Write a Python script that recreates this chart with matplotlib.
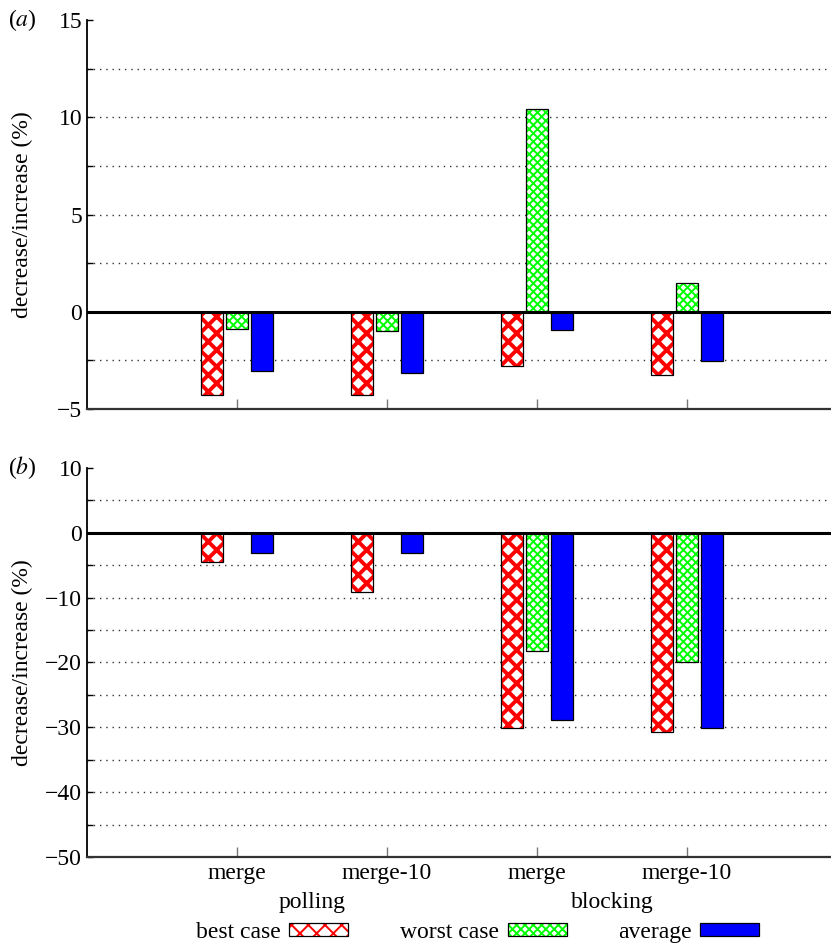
import numpy as np
import matplotlib
matplotlib.use('Agg')
import matplotlib.pyplot as plt
from matplotlib.patches import Patch
from matplotlib.ticker import MultipleLocator

plt.rcParams['font.family'] = ['Liberation Serif', 'DejaVu Serif']
plt.rcParams['mathtext.fontset'] = 'stix'
plt.rcParams['font.size'] = 17

# data
cats = ['merge', 'merge-10', 'merge', 'merge-10']
modes = ['polling', 'blocking']
best_a = [-4.3, -4.3, -2.78, -3.23]
worst_a = [-0.9, -1.0, 10.42, 1.49]
avg_a = [-3.05, -3.15, -0.95, -2.55]
best_b = [-4.57, -9.1, -30.15, -30.7]
worst_b = [0.0, 0.0, -18.2, -20.0]
avg_b = [-3.08, -3.1, -28.8, -30.15]

x = np.arange(1, len(cats) + 1)
w = 0.153
off = 1 / 6.
RED_HATCH, GREEN_HATCH = 'xx', 'xxxx'

def hatched(ax, xs, vals, color, hatch, hlw):
    plt.rcParams['hatch.linewidth'] = hlw
    bars = ax.bar(xs, vals, w, facecolor='white', edgecolor=color, hatch=hatch,
                  linewidth=0, zorder=2)
    for b in bars:
        if hasattr(b, 'set_hatch_linewidth'):
            b.set_hatch_linewidth(hlw)
    ax.bar(xs, vals, w, fill=False, edgecolor='black', linewidth=0.9, zorder=3)

def panel(ax, best, worst, avg, ylo, yhi, step, letter):
    hatched(ax, x - off, best, '#ff0000', RED_HATCH, 2.8)
    hatched(ax, x, worst, '#00ff00', GREEN_HATCH, 1.4)
    ax.bar(x + off, avg, w, facecolor='#0000ff', edgecolor='black', linewidth=0.9, zorder=3)
    ax.axhline(0, color='black', linewidth=2.2, zorder=4)
    ax.set_xlim(0, 4.96)
    ax.set_ylim(ylo, yhi)
    ax.yaxis.set_major_locator(MultipleLocator(step))
    ax.yaxis.set_minor_locator(MultipleLocator(step / 2))
    ax.set_xticks(x)
    # dotted grid every half step, none on the top limit
    for g in np.arange(ylo + step / 2, yhi, step / 2):
        ax.axhline(g, color='#333333', linewidth=1.0, linestyle=(0, (1, 3.5)), zorder=1)
    for s in ['top', 'right']:
        ax.spines[s].set_visible(False)
    ax.spines['left'].set_linewidth(1.3)
    ax.spines['bottom'].set_linewidth(1.6)
    ax.spines['bottom'].set_color('#333333')
    ax.tick_params(axis='y', which='both', direction='in', length=4, width=1)
    ax.tick_params(axis='x', direction='in', length=7, width=1, color='#777777')
    ax.set_ylabel('decrease/increase (%)', fontsize=17)
    ax.yaxis.set_label_coords(-0.073, 0.5)
    ax.text(-0.106, 1.0, '($' + letter + '$)', transform=ax.transAxes,
            ha='left', va='center', fontsize=17)

fig = plt.figure(figsize=(8.31, 9.44), dpi=100)
ax1 = fig.add_axes([0.1047, 0.5667, 0.8953, 0.4121])
ax2 = fig.add_axes([0.1047, 0.0922, 0.8953, 0.4121])

panel(ax1, best_a, worst_a, avg_a, -5, 15, 5, 'a')
panel(ax2, best_b, worst_b, avg_b, -50, 10, 10, 'b')

ax1.set_xticklabels([])
ax2.set_xticklabels(cats)
ax2.tick_params(axis='x', pad=4)

for i, m in enumerate(modes):
    ax2.text(2 * i + 1.5, -0.117, m, transform=ax2.get_xaxis_transform(),
             ha='center', va='center', fontsize=17)

plt.rcParams['hatch.linewidth'] = 2.8
h_best = (Patch(facecolor='white', edgecolor='#ff0000', hatch=RED_HATCH, linewidth=0),
          Patch(fill=False, edgecolor='black', linewidth=0.9))
plt.rcParams['hatch.linewidth'] = 1.4
h_worst = (Patch(facecolor='white', edgecolor='#00ff00', hatch=GREEN_HATCH, linewidth=0),
           Patch(fill=False, edgecolor='black', linewidth=0.9))
h_avg = Patch(facecolor='#0000ff', edgecolor='black', linewidth=0.9)
fig.legend([h_best, h_worst, h_avg], ['best case', 'worst case', 'average'],
           loc='center', bbox_to_anchor=(0.575, 0.0125), ncol=3, frameon=False,
           markerfirst=False, handlelength=2.5, handleheight=0.5,
           handletextpad=0.35, columnspacing=2.2, borderpad=0, fontsize=17)

fig.savefig('out.png', dpi=100)
